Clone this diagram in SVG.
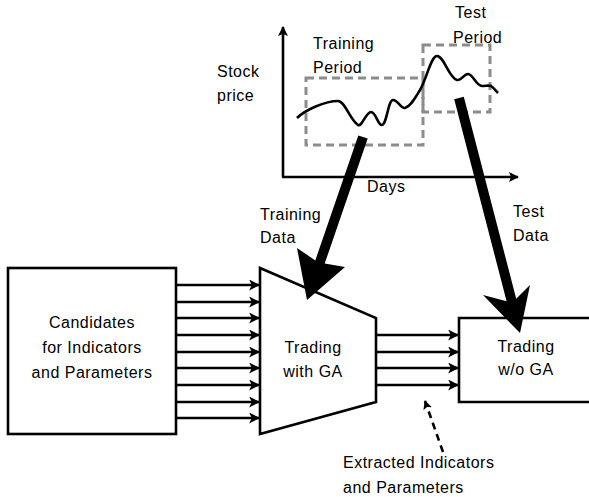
<svg xmlns="http://www.w3.org/2000/svg" width="589" height="497" viewBox="0 0 589 497">
<defs>
<style>
text{font-family:"Liberation Sans",Arial,sans-serif;font-size:16px;letter-spacing:0.5px;fill:#000}
.ln{stroke:#000;stroke-width:2.6;fill:none}
.dash{stroke:#8c8c8c;stroke-width:3;fill:none;stroke-dasharray:8 5}
.c{text-anchor:middle}
</style>
<marker id="ah" viewBox="0 0 10 10" refX="9" refY="5" markerUnits="userSpaceOnUse" markerWidth="11" markerHeight="11" orient="auto">
<path d="M0,0 L10,5 L0,10 L2.5,5 z" fill="#000"/>
</marker>
<marker id="axh" viewBox="0 0 10 10" refX="9" refY="5" markerUnits="userSpaceOnUse" markerWidth="10" markerHeight="10" orient="auto">
<path d="M0,0 L10,5 L0,10 L2,5 z" fill="#000"/>
</marker>
<marker id="sh" viewBox="0 0 10 10" refX="9" refY="5" markerUnits="userSpaceOnUse" markerWidth="9" markerHeight="9" orient="auto">
<path d="M0,0 L10,5 L0,10 L2,5 z" fill="#000"/>
</marker>
</defs>
<rect width="589" height="497" fill="#fff"/>

<g id="chart">
<rect class="dash" x="306" y="78" width="117" height="67"/>
<rect class="dash" x="423" y="45" width="67" height="67"/>
<line class="ln" x1="283" y1="177" x2="283" y2="27" marker-end="url(#axh)"/>
<line class="ln" x1="282" y1="177" x2="518" y2="177" marker-end="url(#axh)"/>
<path class="ln" stroke-width="2.8" d="M297,118 C305,110 325,101 338,101 C345,101 350,120 358,125 C362,127 366,112 371,112 C376,112 378,126 382,125 C387,124 388,100 393,100 C398,100 401,109 405,108 C411,106 415,98 420,90 C427,78 431,56 437,56 C444,56 449,78 457,80 C461,81 464,74 468,74 C473,74 476,86 482,86 C486,86 488,85 491,86 C494,88 496,91 498,93"/>
<text x="217" y="77">Stock</text>
<text x="217" y="101">price</text>
<text x="313" y="49">Training</text>
<text x="313" y="73">Period</text>
<text x="455" y="18">Test</text>
<text x="453" y="43">Period</text>
<text x="367" y="192">Days</text>
</g>

<g id="candidates">
<rect class="ln" x="8" y="268" width="168" height="166"/>
<text class="c" x="92" y="328">Candidates</text>
<text class="c" x="92" y="353">for Indicators</text>
<text class="c" x="92" y="378">and Parameters</text>
</g>

<g id="trading-ga">
<path class="ln" d="M260,268 L376,318 L376,402 L260,434 Z"/>
<text class="c" x="313" y="353">Trading</text>
<text class="c" x="313" y="377">with GA</text>
</g>

<g id="trading-noga">
<path class="ln" d="M590,318 H459 V402 H590"/>
<text class="c" x="526" y="352">Trading</text>
<text class="c" x="526" y="375">w/o GA</text>
</g>

<g id="connectors">
<g class="ln" marker-end="url(#ah)">
<line x1="176" y1="285" x2="259" y2="285"/>
<line x1="176" y1="302" x2="259" y2="302"/>
<line x1="176" y1="318" x2="259" y2="318"/>
<line x1="176" y1="335" x2="259" y2="335"/>
<line x1="176" y1="352" x2="259" y2="352"/>
<line x1="176" y1="368" x2="259" y2="368"/>
<line x1="176" y1="385" x2="259" y2="385"/>
<line x1="176" y1="402" x2="259" y2="402"/>
<line x1="176" y1="418" x2="259" y2="418"/>
<line x1="376" y1="335" x2="458" y2="335"/>
<line x1="376" y1="352" x2="458" y2="352"/>
<line x1="376" y1="368" x2="458" y2="368"/>
<line x1="376" y1="385" x2="458" y2="385"/>
</g>
<polygon fill="#000" points="358.3,135.4 367.7,138.6 324.7,263.6 345,267 307,300 297,248 315.3,260.4"/>
<polygon fill="#000" points="454.2,99.3 463.8,96.7 516.2,298.7 530,285 520,333 483,295 506.6,301.3"/>
<line class="ln" x1="443" y1="452" x2="425" y2="401" stroke-dasharray="7 5" marker-end="url(#sh)"/>
</g>

<g id="labels">
<text x="260" y="220">Training</text>
<text x="260" y="243">Data</text>
<text x="513" y="217">Test</text>
<text x="513" y="241">Data</text>
<text x="343" y="468">Extracted Indicators</text>
<text x="343" y="493">and Parameters</text>
</g>
</svg>
